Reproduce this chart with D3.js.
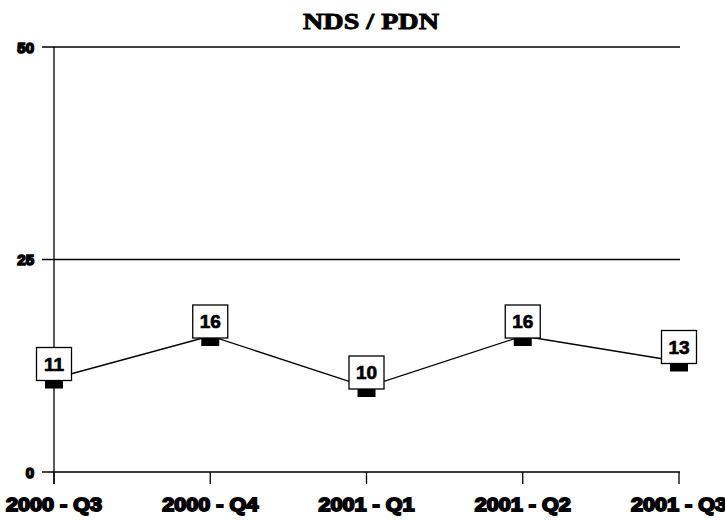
<!DOCTYPE html>
<html>
<head>
<meta charset="utf-8">
<script src="https://cdn.jsdelivr.net/npm/d3@7"></script>
<style>
  body { margin: 0; background: #fff; }
</style>
</head>
<body>
<div class="chart"></div>
<script>
// chart data
const quarters = ["2000 - Q3", "2000 - Q4", "2001 - Q1", "2001 - Q2", "2001 - Q3"];
const values = [11, 16, 10, 16, 13];
const yTicks = [0, 25, 50];
const title = "NDS / PDN";

const width = 725;
const height = 521;

const svg = d3.select(".chart")
    .append("svg")
    .attr("width", width)
    .attr("height", height);

const x = d3.scalePoint()
    .domain(quarters)
    .range([54, 679]);

const y = d3.scaleLinear()
    .domain([0, 50])
    .range([472, 47]);

// title
svg.append("text")
    .attr("x", 371)
    .attr("y", 29)
    .attr("text-anchor", "middle")
    .attr("font-family", "Liberation Serif, Times New Roman, serif")
    .attr("font-weight", "bold")
    .attr("font-size", "24px")
    .attr("stroke", "#000")
    .attr("stroke-width", 0.9)
    .attr("textLength", 136)
    .attr("lengthAdjust", "spacingAndGlyphs")
    .text(title);

// horizontal grid lines (also act as y ticks)
svg.selectAll(".grid")
    .data(yTicks)
    .enter()
    .append("line")
    .attr("class", "grid")
    .attr("x1", 42)
    .attr("x2", 680)
    .attr("y1", d => y(d))
    .attr("y2", d => y(d))
    .attr("stroke", "#000")
    .attr("stroke-width", 1.3);

// y labels
svg.selectAll(".ylabel")
    .data(yTicks)
    .enter()
    .append("text")
    .attr("class", "ylabel")
    .attr("x", 34)
    .attr("y", d => y(d) + 5.5)
    .attr("text-anchor", "end")
    .attr("font-family", "Liberation Sans, Arial, sans-serif")
    .attr("font-weight", "bold")
    .attr("font-size", "15px")
    .attr("stroke", "#000")
    .attr("stroke-width", 1.6)
    .text(d => d);

// y axis line
svg.append("line")
    .attr("x1", x(quarters[0]))
    .attr("x2", x(quarters[0]))
    .attr("y1", y(50))
    .attr("y2", 484)
    .attr("stroke", "#000")
    .attr("stroke-width", 1.3);

// x ticks
svg.selectAll(".xtick")
    .data(quarters)
    .enter()
    .append("line")
    .attr("class", "xtick")
    .attr("x1", d => x(d))
    .attr("x2", d => x(d))
    .attr("y1", y(0))
    .attr("y2", 484)
    .attr("stroke", "#000")
    .attr("stroke-width", 1.3);

// x labels
svg.selectAll(".xlabel")
    .data(quarters)
    .enter()
    .append("text")
    .attr("class", "xlabel")
    .attr("x", d => x(d))
    .attr("y", 511)
    .attr("text-anchor", "middle")
    .attr("font-family", "Liberation Sans, Arial, sans-serif")
    .attr("font-weight", "bold")
    .attr("font-size", "19px")
    .attr("stroke", "#000")
    .attr("stroke-width", 1.8)
    .attr("textLength", 96)
    .attr("lengthAdjust", "spacingAndGlyphs")
    .text(d => d);

// data line
const line = d3.line()
    .x((d, i) => x(quarters[i]))
    .y(d => y(d));

svg.append("path")
    .datum(values)
    .attr("d", line)
    .attr("fill", "none")
    .attr("stroke", "#000")
    .attr("stroke-width", 1.3);

// square markers
svg.selectAll(".marker")
    .data(values)
    .enter()
    .append("rect")
    .attr("class", "marker")
    .attr("x", (d, i) => x(quarters[i]) - 9)
    .attr("y", d => y(d) - 8)
    .attr("width", 18)
    .attr("height", 18)
    .attr("fill", "#000");

// value label boxes
const boxes = svg.selectAll(".vbox")
    .data(values)
    .enter()
    .append("g")
    .attr("class", "vbox")
    .attr("transform", (d, i) => `translate(${x(quarters[i])},${y(d)})`);

boxes.append("rect")
    .attr("x", -17.5)
    .attr("y", -31)
    .attr("width", 35)
    .attr("height", 33)
    .attr("fill", "#fff")
    .attr("stroke", "#000")
    .attr("stroke-width", 1.3);

boxes.append("text")
    .attr("x", 0)
    .attr("y", -8)
    .attr("text-anchor", "middle")
    .attr("font-family", "Liberation Sans, Arial, sans-serif")
    .attr("font-weight", "bold")
    .attr("font-size", "19px")
    .attr("stroke", "#000")
    .attr("stroke-width", 0.7)
    .text(d => d);
</script>
</body>
</html>
